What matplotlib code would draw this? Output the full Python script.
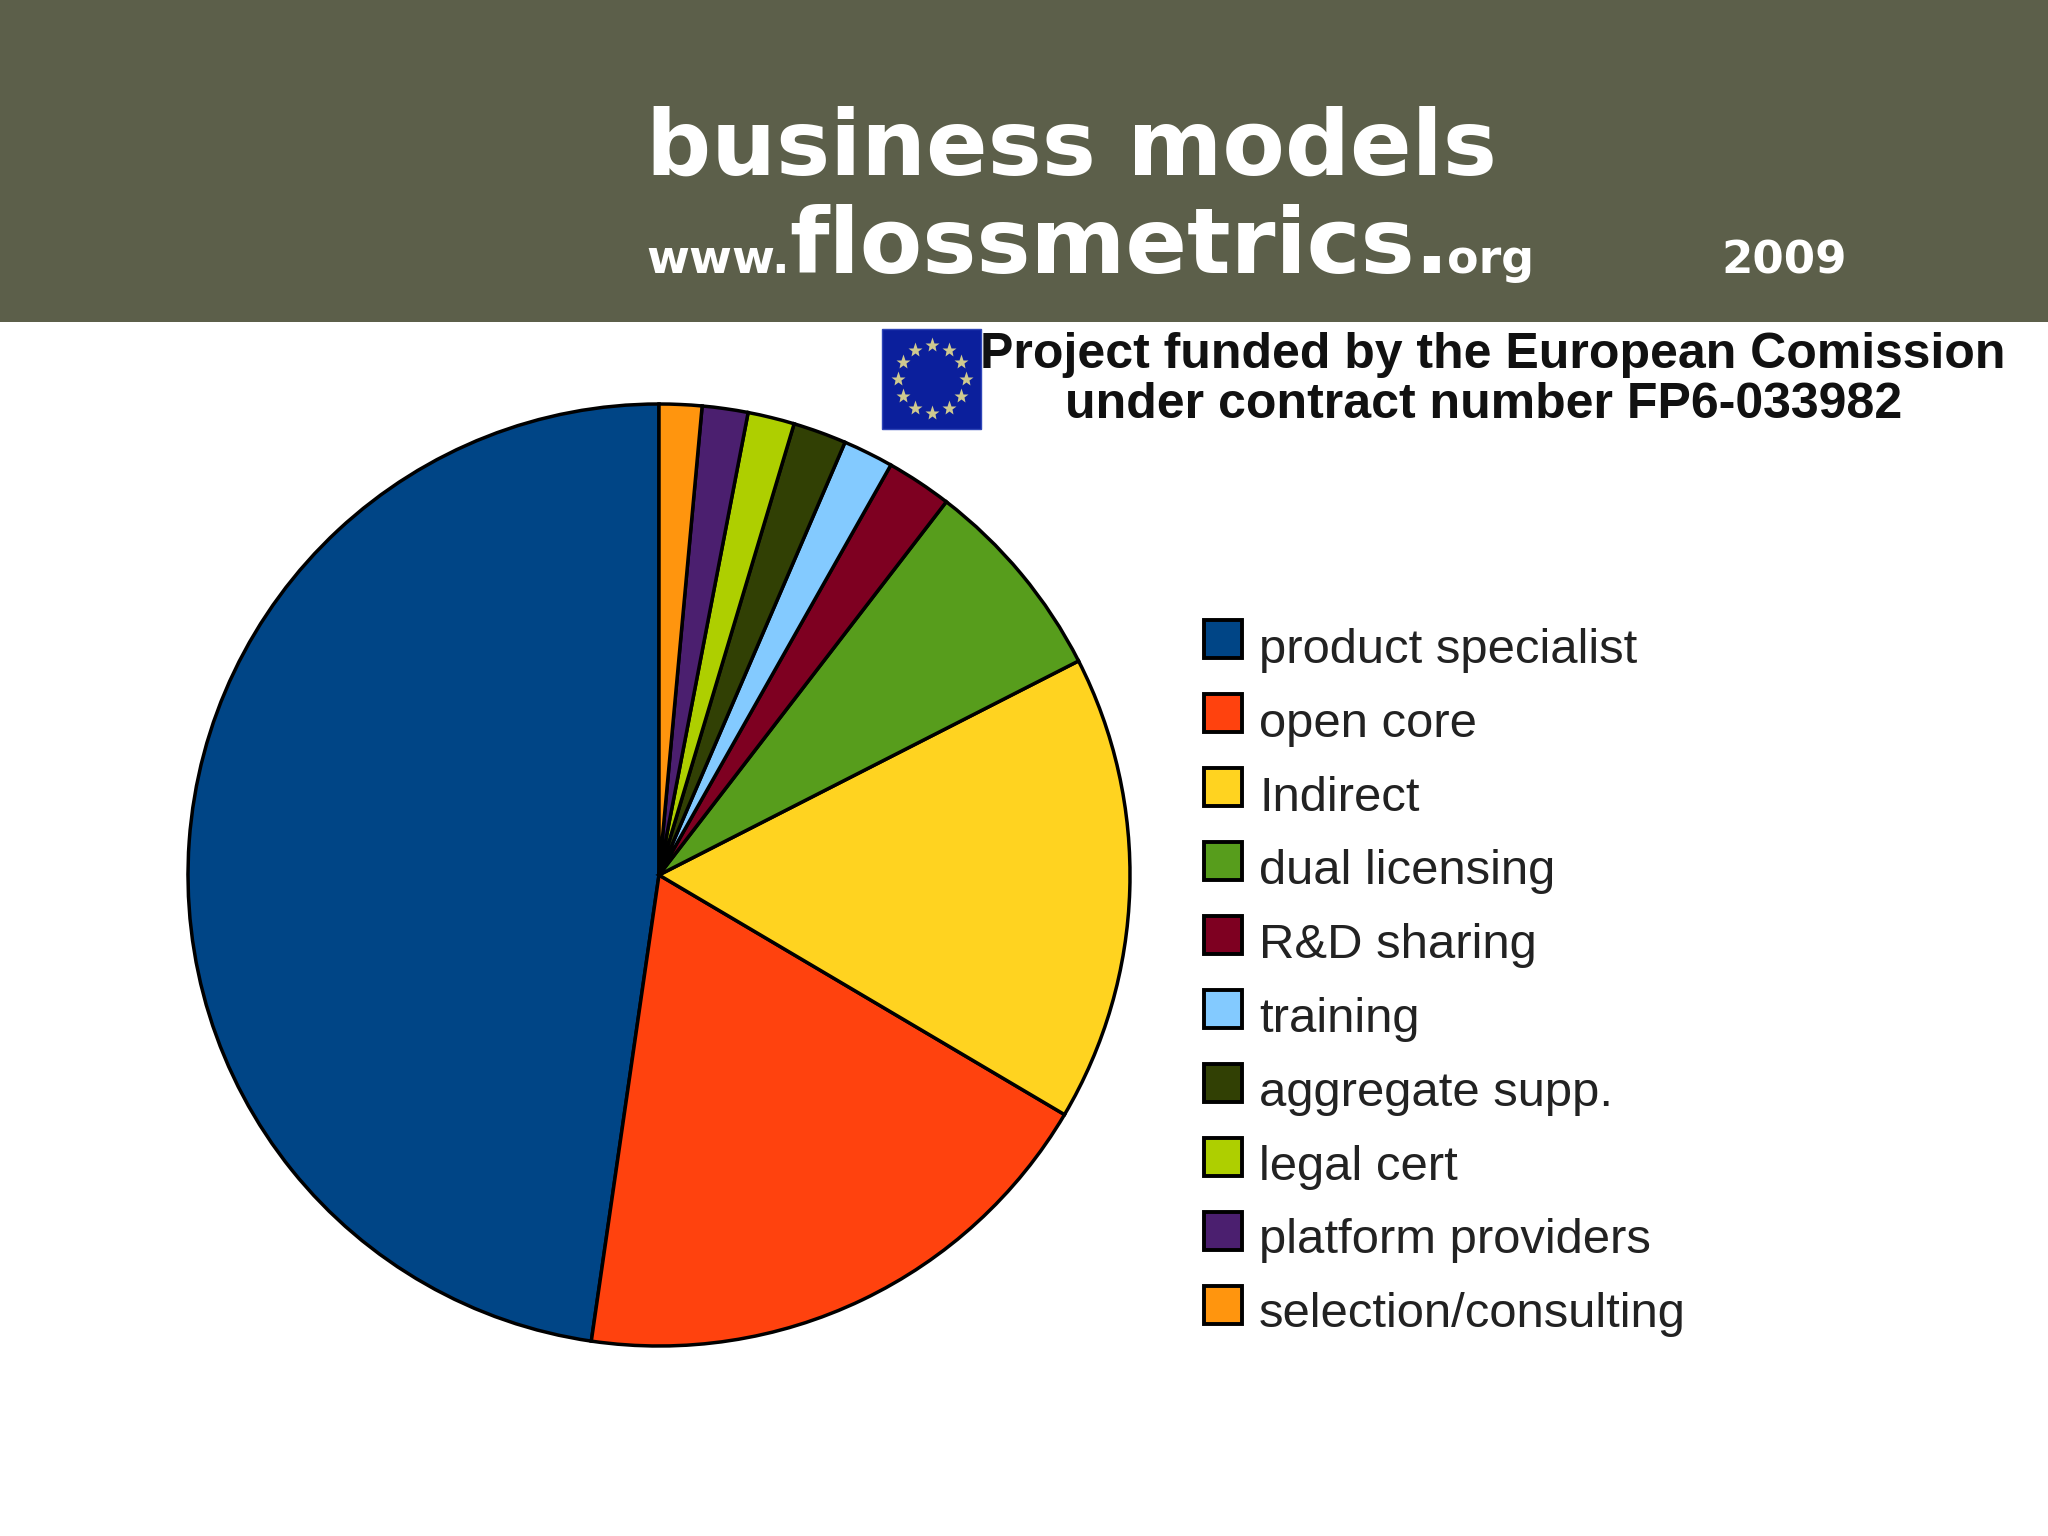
import math
import matplotlib
matplotlib.use("Agg")
import matplotlib.pyplot as plt
from matplotlib.patches import Rectangle

# Share of each business model
labels = ["product specialist", "open core", "Indirect", "dual licensing", "R&D sharing",
          "training", "aggregate supp.", "legal cert", "platform providers", "selection/consulting"]
shares = [47.7, 18.8, 16.0, 7.05, 2.25, 1.73, 1.83, 1.6, 1.57, 1.46]
colors = ["#004586", "#ff420e", "#ffd320", "#579d1c", "#7e0021",
          "#83caff", "#314004", "#aecf00", "#4b1f6f", "#ff950e"]

W, H = 2048, 1536
BANNER = "#5c5f4a"
dpi = 100


def py(y):
    # image rows count downwards, the axes count upwards
    return H - y


fig = plt.figure(figsize=(W / dpi, H / dpi), dpi=dpi, facecolor="white")
ax = fig.add_axes([0, 0, 1, 1])

wedges, _ = ax.pie(shares, colors=colors, startangle=90, counterclock=True,
                   center=(659, py(875)), radius=471, frame=True,
                   wedgeprops={"edgecolor": "black", "linewidth": 2.5})
ax.set_xlim(0, W)
ax.set_ylim(0, H)
ax.set_aspect("equal")
ax.axis("off")

# header band
ax.add_patch(Rectangle((0, py(322)), W, 322, facecolor=BANNER, edgecolor="none", zorder=3))
head = {"family": "DejaVu Sans", "weight": "bold", "color": "white", "zorder": 4, "va": "baseline"}
ax.text(646, py(175), "business models", fontsize=65.5, **head)
ax.text(646, py(273), "www.", fontsize=33.5, **head)
ax.text(789, py(273), "flossmetrics.", fontsize=65.5, **head)
ax.text(1447, py(273), "org", fontsize=33, **head)
ax.text(1721, py(273), "2009", fontsize=32.5, **head)

# EU flag
ax.add_patch(Rectangle((882, py(429)), 99, 100, facecolor="#0b1f9c", edgecolor="#2f46b8",
                       linewidth=1, zorder=3))
for i in range(12):
    a = math.radians(30 * i)
    ax.plot(932 + 34 * math.cos(a), py(379) + 34 * math.sin(a), marker="*", markersize=11,
            color="#cfc98f", markeredgecolor="none", zorder=4)

fund = {"family": "Liberation Sans", "weight": "bold", "color": "#111111", "fontsize": 36,
        "ha": "center", "va": "baseline"}
ax.text(1493, py(368), "Project funded by the European Comission", **fund)
ax.text(1484, py(418), "under contract number FP6-033982", **fund)

# legend rows, the text sits a little lower than its swatch
for i, (name, col) in enumerate(zip(labels, colors)):
    top = 620 + 74 * i
    ax.add_patch(Rectangle((1204, py(top + 38)), 38, 38, facecolor=col, edgecolor="black",
                           linewidth=2.8, zorder=3))
    ax.text(1259, py(663 + 73.8 * i), name, family="Liberation Sans", fontsize=35.3,
            color="#222222", va="baseline")

fig.savefig("out.png", dpi=dpi, facecolor="white")
